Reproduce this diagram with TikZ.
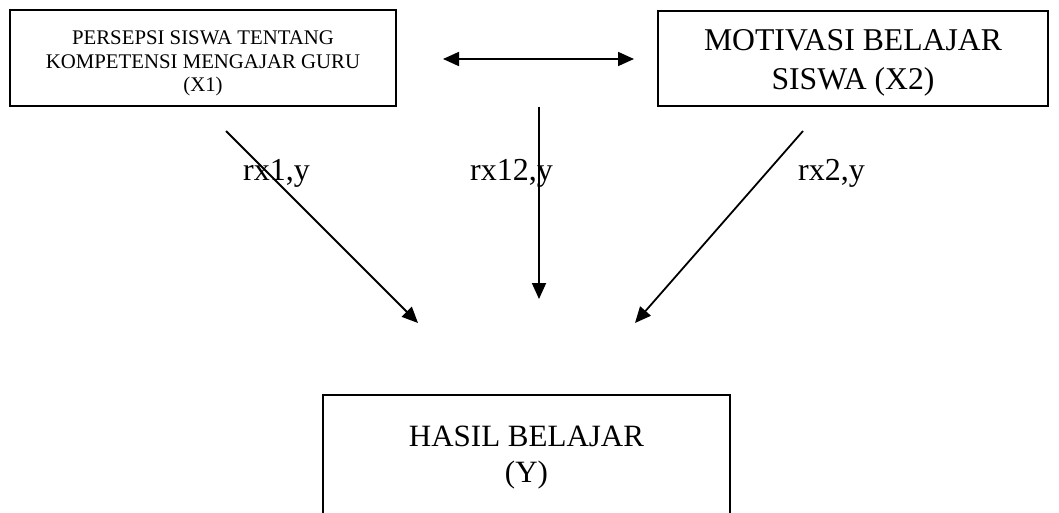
\documentclass[tikz,border=0pt]{standalone}
\usepackage{fontspec}
\setmainfont{Liberation Serif}
\usetikzlibrary{arrows.meta}
\begin{document}
\begin{tikzpicture}[x=1pt,y=-1pt,
  box/.style={draw, line width=1.8pt, inner sep=0pt},
  boxtext/.style={align=center, inner sep=0pt, anchor=north},
  bigtext/.style={font=\fontsize{31.7}{38.5}\selectfont},
  conn/.style={line width=1.8pt, -{Triangle[length=16pt,width=14pt]}},
  bothconn/.style={line width=1.8pt, {Triangle[length=16pt,width=14pt]}-{Triangle[length=16pt,width=14pt]}},
  lbl/.style={font=\fontsize{32}{32}\selectfont, inner sep=0pt, anchor=base west}]
\useasboundingbox (0,0) rectangle (1059,513);
\clip (0,0) rectangle (1059,513);

% predictor and outcome boxes
\node[box, minimum width=386pt, minimum height=96pt] (x1) at (203,58) {};
\node[boxtext, font=\fontsize{20.8}{23.5}\selectfont] (x1text) at (203,31)
  {PERSEPSI SISWA TENTANG\\KOMPETENSI MENGAJAR GURU\\(X1)};
\node[box, minimum width=390pt, minimum height=95pt] (x2) at (853,58.5) {};
\node[boxtext, bigtext] (x2text) at (853,29.5)
  {MOTIVASI BELAJAR\\SISWA (X2)};
\node[box, line width=1.3pt, minimum width=407pt, minimum height=205pt] (y) at (526.5,497.5) {};
\node[boxtext, font=\fontsize{31}{36}\selectfont] (ytext) at (526.5,426)
  {HASIL BELAJAR\\(Y)};

% connector end points
\coordinate (dl) at (443,59);
\coordinate (dr) at (634,59);
\coordinate (a1s) at (226,131);
\coordinate (a1e) at (418,323);
\coordinate (a2s) at (539,107);
\coordinate (a2e) at (539,299);
\coordinate (a3s) at (803,131);
\coordinate (a3e) at (635,323);

% connectors
\draw[bothconn] (dl) -- (dr);
\draw[conn] (a1s) -- (a1e);
\draw[conn] (a2s) -- (a2e);
\draw[conn] (a3s) -- (a3e);

% coefficient labels
\node[lbl] (l1) at (243,181) {rx1,y};
\node[lbl] (l12) at (470,181) {rx12,y};
\node[lbl] (l2) at (798,181) {rx2,y};
\end{tikzpicture}
\end{document}
